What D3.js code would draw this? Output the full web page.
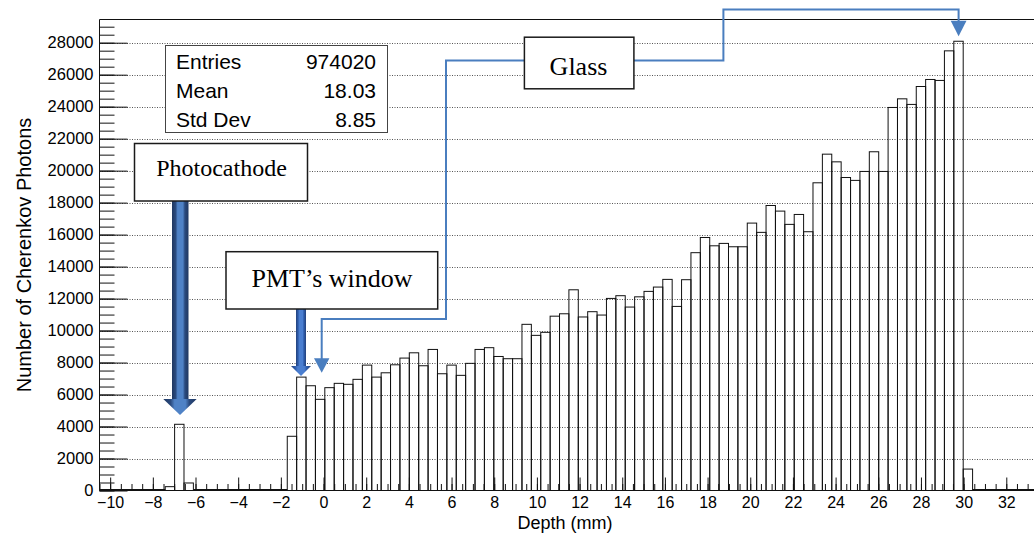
<!DOCTYPE html>
<html>
<head>
<meta charset="utf-8">
<script src="https://cdn.jsdelivr.net/npm/d3@7"></script>
<style>
  body { margin: 0; background: #fff; }
  svg { display: block; font-family: "Liberation Sans", Arial, Helvetica, sans-serif; }
</style>
</head>
<body>
<svg id="chart" width="1034" height="538"></svg>
<script>
// Histogram binning: 100 equal bins of depth (mm)
const depthMin = -10.5;
const depthMax = 33.5;
const nBins = 100;

// Cherenkov photon counts per bin (bin 0 .. bin 99)
const counts = [
  0, 0, 0, 0, 0, 0, 0, 240, 4140, 470,
  0, 0, 0, 0, 0, 0, 0, 0, 0, 0,
  3390, 7090, 6550, 5700, 6430, 6700, 6640, 6950, 7840, 7090,
  7360, 7860, 8280, 8610, 7800, 8820, 7300, 7840, 7200, 7950,
  8820, 8930, 8380, 8240, 8240, 10390, 9700, 9890, 10900, 11050,
  12550, 10850, 11180, 10970, 12010, 12180, 11470, 12110, 12450, 12720,
  13200, 11510, 13180, 14870, 15820, 15300, 15450, 15240, 15240, 16720,
  16140, 17820, 17470, 16640, 17260, 16180, 19240, 21030, 20550, 19570,
  19390, 19950, 21180, 19950, 23950, 24490, 24140, 25260, 25700, 25640,
  27490, 28090, 1340, 0, 0, 0, 0, 0, 0, 0
];

// Axis ticks
const xMajorTicks = d3.range(-10, 33, 2);
const xMinorTicks = d3.range(-10.5, 33.51, 0.5);
const yMajorTicks = d3.range(0, 28001, 2000);
const yMinorTicks = d3.range(0, 29451, 500);
const yMax = 29450;

// Statistics box
const statNames = ["Entries", "Mean", "Std Dev"];
const statValues = ["974020", "18.03", "8.85"];

// Annotation labels
const labelPhotocathode = "Photocathode";
const labelWindow = "PMT\u2019s window";
const labelGlass = "Glass";

const svg = d3.select("#chart");
const frame = { left: 99.5, right: 1038.3, top: 19.5, bottom: 490.5 };

const x = d3.scaleLinear().domain([depthMin, depthMax]).range([frame.left, frame.right]);
const y = d3.scaleLinear().domain([0, yMax]).range([frame.bottom, frame.top]);

const binWidth = (depthMax - depthMin) / nBins;
const bins = counts.map((c, i) => ({
  lo: depthMin + i * binWidth,
  hi: depthMin + (i + 1) * binWidth,
  count: c
}));

const minusFmt = d => (d < 0 ? "\u2212" + Math.abs(d) : String(d));

// Horizontal dotted grid
svg.append("g")
  .selectAll("line")
  .data(yMajorTicks.filter(d => d > 0))
  .join("line")
  .attr("x1", frame.left).attr("x2", 1034)
  .attr("y1", d => Math.round(y(d)) + 0.5).attr("y2", d => Math.round(y(d)) + 0.5)
  .attr("stroke", "#555")
  .attr("stroke-width", 1)
  .attr("stroke-dasharray", "1,1.5");

// Histogram bars (outlined)
svg.append("g")
  .selectAll("rect")
  .data(bins.filter(b => b.count > 0))
  .join("rect")
  .attr("x", b => x(b.lo))
  .attr("width", b => x(b.hi) - x(b.lo))
  .attr("y", b => y(b.count))
  .attr("height", b => y(0) - y(b.count))
  .attr("fill", "none")
  .attr("stroke", "#111")
  .attr("stroke-width", 1);

// Histogram line along empty bins
const emptyLine = d3.line()
  .defined(b => b.count === 0)
  .x(b => x(b.lo))
  .y(() => y(0) - 0.5);
const emptyPts = [];
bins.forEach((b, i) => {
  emptyPts.push({ lo: b.lo, count: b.count });
  emptyPts.push({ lo: b.hi, count: b.count });
  if (i < bins.length - 1) emptyPts.push({ lo: b.hi, count: -1 });
});
svg.append("path")
  .attr("d", emptyLine(emptyPts))
  .attr("fill", "none")
  .attr("stroke", "#111")
  .attr("stroke-width", 2);

// X axis: minor then major ticks, pointing into the frame
const gxMinor = svg.append("g")
  .attr("transform", `translate(0,${frame.bottom})`)
  .call(d3.axisBottom(x).tickValues(xMinorTicks).tickSize(-6.5).tickFormat(""));
gxMinor.select(".domain").remove();

const gx = svg.append("g")
  .attr("transform", `translate(0,${frame.bottom})`)
  .call(d3.axisBottom(x).tickValues(xMajorTicks).tickSize(-13).tickPadding(6).tickFormat(minusFmt));
gx.select(".domain").remove();
gx.selectAll("text").attr("font-size", 16).attr("fill", "#000")
  .attr("font-family", "Liberation Sans, Arial, sans-serif");

// Y axis: minor then major ticks, pointing into the frame
const gyMinor = svg.append("g")
  .attr("transform", `translate(${frame.left},0)`)
  .call(d3.axisLeft(y).tickValues(yMinorTicks).tickSize(-15).tickFormat(""));
gyMinor.select(".domain").remove();

const gy = svg.append("g")
  .attr("transform", `translate(${frame.left},0)`)
  .call(d3.axisLeft(y).tickValues(yMajorTicks).tickSize(-28).tickPadding(6).tickFormat(d3.format("d")));
gy.select(".domain").remove();
gy.selectAll("text").attr("font-size", 16.5).attr("fill", "#000")
  .attr("font-family", "Liberation Sans, Arial, sans-serif");

[gxMinor, gx, gyMinor, gy].forEach(g => g.selectAll("line").attr("stroke", "#111"));

// Frame lines
svg.append("path")
  .attr("d", `M${frame.left},${frame.bottom}V${frame.top}H1034M${frame.left},${frame.bottom}H1034`)
  .attr("fill", "none")
  .attr("stroke", "#111")
  .attr("stroke-width", 1);

// Axis titles
svg.append("text")
  .attr("x", 565)
  .attr("y", 529)
  .attr("text-anchor", "middle")
  .attr("font-size", 18)
  .text("Depth (mm)");

svg.append("text")
  .attr("transform", `translate(31,${(frame.top + frame.bottom) / 2}) rotate(-90)`)
  .attr("text-anchor", "middle")
  .attr("font-size", 20)
  .text("Number of Cherenkov Photons");

// Statistics box
const stats = svg.append("g");
stats.append("rect")
  .attr("x", 165.5).attr("y", 45.5).attr("width", 222).attr("height", 87)
  .attr("fill", "#fff").attr("stroke", "#444").attr("stroke-width", 1);
statNames.forEach((n, i) => {
  stats.append("text").attr("x", 176).attr("y", 68.5 + i * 29)
    .attr("font-size", 21).text(n);
  stats.append("text").attr("x", 376).attr("y", 68.5 + i * 29)
    .attr("font-size", 21).attr("text-anchor", "end").text(statValues[i]);
});

// Annotation styles
const defs = svg.append("defs");
function shaftGradient(id, edge, mid, core) {
  const g = defs.append("linearGradient").attr("id", id)
    .attr("x1", "0%").attr("x2", "100%").attr("y1", "0%").attr("y2", "0%");
  [[0, edge], [0.22, mid], [0.34, core], [0.66, core], [0.78, mid], [1, edge]]
    .forEach(([o, c]) => g.append("stop").attr("offset", o).attr("stop-color", c));
}
shaftGradient("thickArrow", "#1f3760", "#2a4a7e", "#4f82c6");
shaftGradient("mediumArrow", "#23417a", "#2f5eae", "#4a7ed0");

const serif = "Liberation Serif, Times New Roman, serif";
const connectorBlue = "#4a7ebf";

function labelBox(x0, y0, w, h, text, tx, ty, fs) {
  svg.append("rect").attr("x", x0).attr("y", y0).attr("width", w).attr("height", h)
    .attr("fill", "#fff").attr("stroke", "#1a1a1a").attr("stroke-width", 1.5);
  svg.append("text").attr("x", tx).attr("y", ty).attr("text-anchor", "middle")
    .attr("font-family", serif).attr("font-size", fs).text(text);
}

// Glass connectors (thin lines with arrow heads)
svg.append("path")
  .attr("d", "M524.4,60.6H446V319H321.7V359")
  .attr("fill", "none").attr("stroke", connectorBlue).attr("stroke-width", 2);
svg.append("path")
  .attr("d", "M314,358.3L329.4,358.3L321.7,372.7Z")
  .attr("fill", connectorBlue);
svg.append("path")
  .attr("d", "M633.9,60.6H723.4V9.6H958.6V21")
  .attr("fill", "none").attr("stroke", connectorBlue).attr("stroke-width", 2);
svg.append("path")
  .attr("d", "M950.7,20.7L966.5,20.7L958.6,36.2Z")
  .attr("fill", connectorBlue);

// Photocathode arrow
svg.append("rect").attr("x", 172).attr("y", 200).attr("width", 16.5).attr("height", 199.5)
  .attr("fill", "url(#thickArrow)");
svg.append("path").attr("d", "M163.3,399L196.7,399L180,415Z")
  .attr("fill", "url(#thickArrow)");

// PMT's window arrow
svg.append("rect").attr("x", 296).attr("y", 308).attr("width", 10).attr("height", 58.5)
  .attr("fill", "url(#mediumArrow)");
svg.append("path").attr("d", "M291,366L311,366L301,376Z")
  .attr("fill", "url(#mediumArrow)");

labelBox(134.5, 143.5, 173, 57.5, labelPhotocathode, 221.5, 176, 24);
labelBox(226, 251.7, 211.7, 57.3, labelWindow, 332, 287, 26);
labelBox(524.4, 37.2, 109.5, 51.6, labelGlass, 578.5, 74.5, 26);
</script>
</body>
</html>
